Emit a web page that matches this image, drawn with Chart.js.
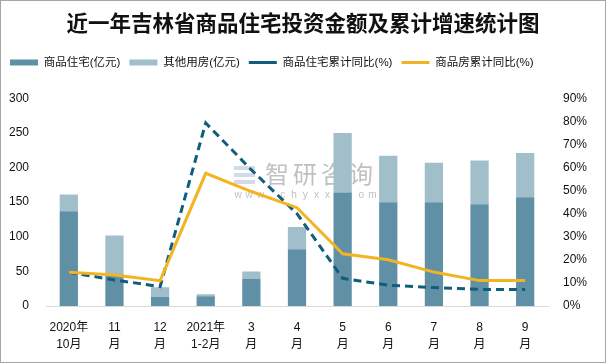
<!DOCTYPE html>
<html>
<head>
<meta charset="utf-8">
<script src="https://cdn.jsdelivr.net/npm/chart.js@4"></script>
<style>
  html, body { margin: 0; padding: 0; background: #fff; }
  #wrap { width: 606px; height: 363px; box-sizing: border-box; border: 1px solid #a6a6a6; }
  #myChart { display: block; }
</style>
</head>
<body>
<div id="wrap"><canvas id="myChart" width="604" height="361"></canvas></div>
<script>
const months = [['2020年', '10月'], ['11', '月'], ['12', '月'], ['2021年', '1-2月'], ['3', '月'], ['4', '月'], ['5', '月'], ['6', '月'], ['7', '月'], ['8', '月'], ['9', '月']];
const houseInvest = [137, 46, 13, 14, 39, 82, 164, 150, 150, 147, 157];
const otherInvest = [24, 56, 14, 3, 11, 32, 86, 67, 57, 63, 64];
const houseGrowth = [14.6, 11.3, 8.4, 79.3, 59, 40, 12, 9, 8, 7.2, 7.2];
const allGrowth = [14.6, 13.4, 11, 57.5, 49.6, 42.6, 22.6, 20, 14.7, 11, 11];
const leftTicks = [0, 50, 100, 150, 200, 250, 300];

const fontFam = '"Liberation Sans", "Noto Sans CJK SC", sans-serif';

// watermark in the middle of the plot
const watermark = {
  id: 'watermark',
  beforeDatasetsDraw(chart) {
    const c = chart.ctx;
    c.save();
    c.fillStyle = 'rgba(180,195,215,0.6)';
    c.fillRect(233, 165, 21, 4);
    c.fillRect(233, 172, 21, 4);
    c.fillRect(233, 179, 21, 4);
    c.fillStyle = 'rgba(150,150,150,0.6)';
    c.font = '24px "Noto Sans CJK SC"';
    c.textBaseline = 'middle';
    c.textAlign = 'center';
    const w = '智研咨询';
    for (let i = 0; i < w.length; i++) c.fillText(w[i], 276 + i * 28, 173);
    c.font = '10px "Liberation Sans"';
    const s = 'www.chyxx.com';
    for (let i = 0; i < s.length; i++) c.fillText(s[i], 237 + i * 11.2, 194);
    c.restore();
  }
};

// extra room under the legend
const legendGap = {
  id: 'legendGap',
  beforeInit(chart) {
    const fit = chart.legend.fit;
    chart.legend.fit = function () {
      fit.bind(chart.legend)();
      this.height += 20;
    };
  }
};

const ctx = document.getElementById('myChart').getContext('2d');
const myChart = new Chart(ctx, {
  data: {
    labels: months,
    datasets: [
      { type: 'bar', label: '商品住宅(亿元)', data: houseInvest, backgroundColor: '#5f90a6', yAxisID: 'y', order: 2, stack: 's', pointStyle: 'rect' },
      { type: 'bar', label: '其他用房(亿元)', data: otherInvest, backgroundColor: '#a1becb', yAxisID: 'y', order: 2, stack: 's', pointStyle: 'rect' },
      { type: 'line', label: '商品住宅累计同比(%)', data: houseGrowth, borderColor: '#115d7c', backgroundColor: '#115d7c', borderWidth: 3, borderDash: [8, 5], pointRadius: 0, tension: 0, yAxisID: 'y1', order: 1, pointStyle: 'line' },
      { type: 'line', label: '商品房累计同比(%)', data: allGrowth, borderColor: '#f3b423', backgroundColor: '#f3b423', borderWidth: 3, pointRadius: 0, tension: 0, yAxisID: 'y1', order: 0, pointStyle: 'line' }
    ]
  },
  options: {
    responsive: false,
    animation: false,
    layout: { padding: { left: 0, right: 0, top: 0, bottom: 0 } },
    plugins: {
      title: {
        display: true,
        text: '近一年吉林省商品住宅投资金额及累计增速统计图',
        color: '#111',
        font: { family: '"Noto Sans CJK SC"', size: 21.5, weight: 'bold' },
        padding: { top: 9, bottom: 12 }
      },
      legend: {
        display: true,
        align: 'start',
        labels: {
          usePointStyle: true,
          pointStyleWidth: 28,
          boxHeight: 6,
          padding: 9,
          color: '#111',
          font: { family: fontFam, size: 11.5 },
          sort: (a, b) => a.datasetIndex - b.datasetIndex
        }
      },
      tooltip: { enabled: false }
    },
    scales: {
      x: {
        stacked: true,
        grid: { display: false, drawTicks: false },
        border: { color: '#d9d9d9', width: 1 },
        ticks: { color: '#111', font: { family: fontFam, size: 12, lineHeight: 1.42 }, padding: 13, maxRotation: 0, autoSkip: false },
        afterFit(s) { s.height = 56; }
      },
      y: {
        stacked: true,
        min: 0, max: 300,
        position: 'left',
        grid: { display: false, drawTicks: false },
        border: { display: false },
        afterBuildTicks(s) { s.ticks = leftTicks.map(v => ({ value: v })); },
        ticks: { color: '#111', font: { family: fontFam, size: 12 }, padding: 17 },
        afterFit(s) { s.width = 45; }
      },
      y1: {
        stacked: false,
        min: 0, max: 90,
        position: 'right',
        grid: { display: false, drawTicks: false },
        border: { display: false },
        ticks: { stepSize: 10, color: '#111', font: { family: fontFam, size: 12 }, padding: 15, callback: v => v + '%' },
        afterFit(s) { s.width = 57; }
      }
    },
    datasets: {
      bar: { categoryPercentage: 1, barPercentage: 0.4 }
    }
  },
  plugins: [watermark, legendGap]
});
</script>
</body>
</html>
